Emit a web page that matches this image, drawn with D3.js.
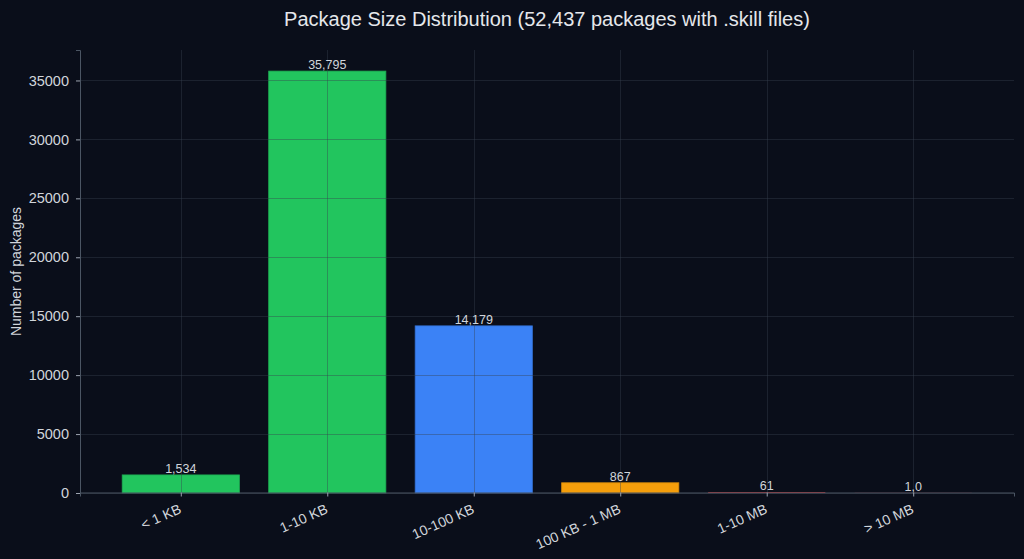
<!DOCTYPE html>
<html>
<head>
<meta charset="utf-8">
<script src="https://cdn.jsdelivr.net/npm/d3@7"></script>
<style>
  html, body { margin: 0; padding: 0; background: #0a0e1a; }
  svg { display: block; font-family: "Liberation Sans", Arial, sans-serif; }
</style>
</head>
<body>
<div id="chart"></div>
<script>
// bucket names, counts, colours and printed labels
const sizeBuckets = ['< 1 KB', '1-10 KB', '10-100 KB', '100 KB - 1 MB', '1-10 MB', '> 10 MB'];
const packageCounts = [1534, 35795, 14179, 867, 61, 10];
const countLabels = ['1,534', '35,795', '14,179', '867', '61', '1,0'];
const bucketColors = ['#22c55e', '#22c55e', '#3b82f6', '#f59e0b', '#ef4444', '#ef4444'];
const yTicks = [0, 5000, 10000, 15000, 20000, 25000, 30000, 35000];

const W = 1024, H = 559;
const margin = { top: 50, right: 10, bottom: 66, left: 80 };
const w = W - margin.left - margin.right;
const h = H - margin.top - margin.bottom;

const svg = d3.select('#chart').append('svg')
  .attr('width', W)
  .attr('height', H);

svg.append('rect').attr('width', W).attr('height', H).attr('fill', '#0a0e1a');

const g = svg.append('g')
  .attr('transform', 'translate(' + margin.left + ',' + margin.top + ')');

// matplotlib style: xlim pads 0.688 of a slot each side, bars 0.8 wide
const x = d3.scaleLinear()
  .domain([-0.688, sizeBuckets.length - 1 + 0.688])
  .range([0, w]);
const barW = x(0.8) - x(0);

const y = d3.scaleLinear()
  .domain([0, d3.max(packageCounts) * 1.05])
  .range([h, 0]);

// bars
g.append('g').selectAll('rect')
  .data(packageCounts)
  .enter()
  .append('rect')
  .attr('x', (d, i) => x(i) - barW / 2)
  .attr('y', d => y(d))
  .attr('width', barW)
  .attr('height', d => h - y(d))
  .attr('fill', (d, i) => bucketColors[i])
  .attr('stroke', (d, i) => h - y(d) > 3 ? d3.color(bucketColors[i]).darker(0.4) : 'none')
  .attr('stroke-width', 0.8);

// grid on top of bars
const grid = g.append('g').attr('stroke', '#374151').attr('stroke-opacity', 0.4).attr('stroke-width', 1);
grid.selectAll('line.h')
  .data(yTicks)
  .enter()
  .append('line')
  .attr('x1', 0).attr('x2', w)
  .attr('y1', d => Math.round(y(d)) + 0.5)
  .attr('y2', d => Math.round(y(d)) + 0.5);
grid.selectAll('line.v')
  .data(sizeBuckets)
  .enter()
  .append('line')
  .attr('y1', 0).attr('y2', h)
  .attr('x1', (d, i) => Math.round(x(i)) + 0.5)
  .attr('x2', (d, i) => Math.round(x(i)) + 0.5);

// value labels
g.append('g').selectAll('text')
  .data(packageCounts)
  .enter()
  .append('text')
  .attr('x', (d, i) => x(i))
  .attr('y', d => y(d) - 2)
  .attr('text-anchor', 'middle')
  .attr('fill', '#d1d5db')
  .style('font-size', '12.5px')
  .text((d, i) => countLabels[i]);

// y axis
const yAxis = d3.axisLeft(y).tickValues(yTicks).tickSize(4).tickPadding(7).tickFormat(d3.format('d'));
const yAx = g.append('g').call(yAxis);
yAx.select('.domain').attr('stroke', '#4b5563');
yAx.selectAll('.tick line').attr('stroke', '#9ca3af');
yAx.selectAll('.tick text').attr('fill', '#d1d5db').style('font-size', '14.5px')
  .style('font-family', '"Liberation Sans", Arial, sans-serif');

// x axis (spine centred on the baseline so it covers the sliver bars)
const xAxis = d3.axisBottom(x).tickValues(d3.range(sizeBuckets.length)).tickSize(4).tickFormat(i => sizeBuckets[i]);
const xAx = g.append('g').attr('transform', 'translate(0,' + (h - 0.5) + ')').call(xAxis);
xAx.select('.domain').attr('stroke', '#4b5563');
xAx.selectAll('.tick line').attr('stroke', '#9ca3af');
xAx.selectAll('.tick text')
  .attr('fill', '#d1d5db')
  .style('font-size', '14px')
  .style('font-family', '"Liberation Sans", Arial, sans-serif')
  .attr('text-anchor', 'end')
  .attr('y', 0).attr('dy', 0)
  .attr('transform', 'translate(1,20) rotate(-24)');

// axis label
svg.append('text')
  .attr('transform', 'translate(21,' + (margin.top + h / 2) + ') rotate(-90)')
  .attr('text-anchor', 'middle')
  .attr('fill', '#d1d5db')
  .style('font-size', '14px')
  .text('Number of packages');

// title
svg.append('text')
  .attr('x', margin.left + w / 2)
  .attr('y', 26)
  .attr('text-anchor', 'middle')
  .attr('fill', '#e5e7eb')
  .style('font-size', '20px')
  .text('Package Size Distribution (52,437 packages with .skill files)');
</script>
</body>
</html>
